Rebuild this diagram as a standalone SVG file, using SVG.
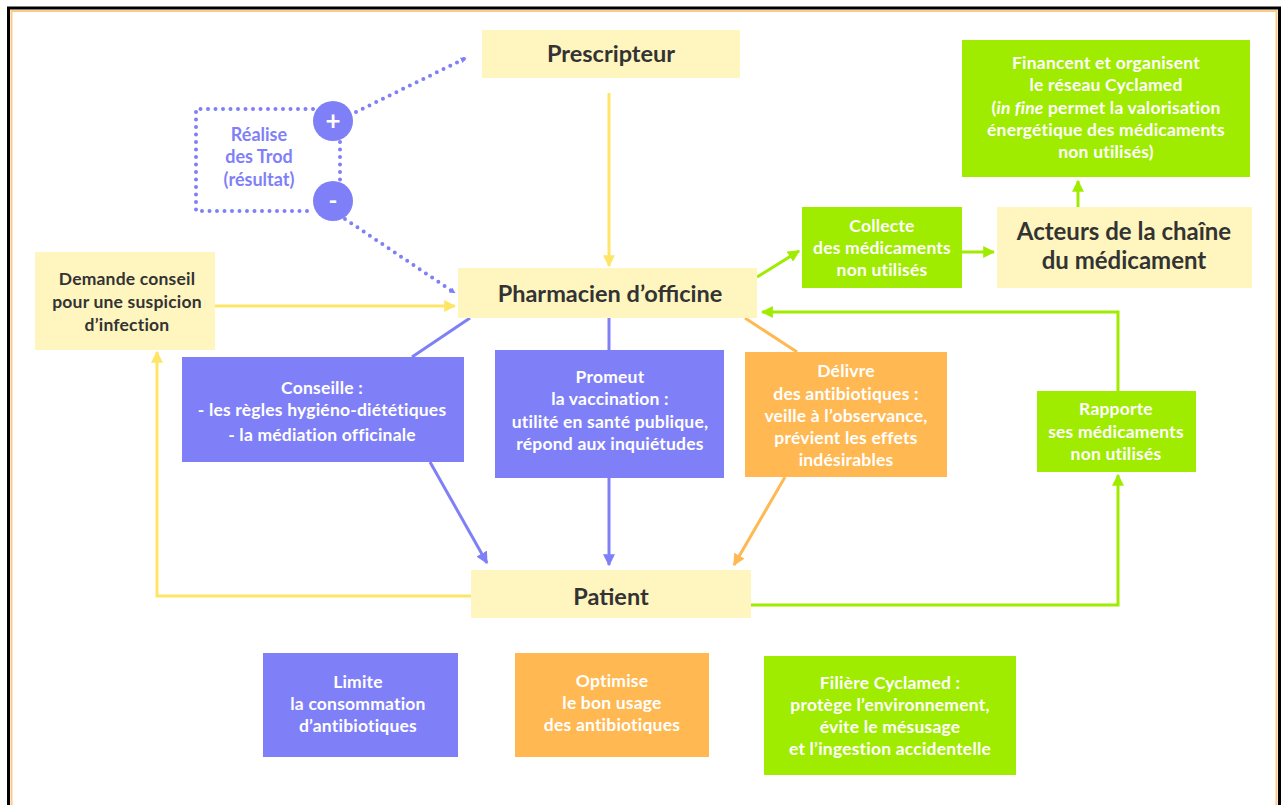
<svg xmlns="http://www.w3.org/2000/svg" width="1282" height="805" viewBox="0 0 1282 805">
<style>
.t{font-family:Lato,"Liberation Sans",sans-serif;font-weight:700;text-anchor:middle}
.s{font-size:17.5px;fill:#ffffff;letter-spacing:0.2px}
.d{font-size:17.5px;fill:#333333;letter-spacing:0.2px}
.b{font-size:23.5px;fill:#333333}
.y{fill:#fff6bf}
.bl{fill:#7f7ff8}
.or{fill:#ffb852}
.gr{fill:#9fec00}
.cy{stroke:#ffe566;stroke-width:3;fill:none}
.cb{stroke:#7f7ff8;stroke-width:3;fill:none}
.co{stroke:#ffb852;stroke-width:3;fill:none}
.cg{stroke:#9fec00;stroke-width:3;fill:none}
.dot{stroke:#7f7ff8;stroke-width:4;fill:none;stroke-dasharray:0 7.5;stroke-linecap:round}
</style>
<defs>
<marker id="ay" viewBox="0 0 10 10" refX="9" refY="5" markerWidth="4" markerHeight="4" orient="auto" markerUnits="strokeWidth"><path d="M0,0 L10,5 L0,10 Z" fill="#ffe566"/></marker>
<marker id="ab" viewBox="0 0 10 10" refX="9" refY="5" markerWidth="4" markerHeight="4" orient="auto" markerUnits="strokeWidth"><path d="M0,0 L10,5 L0,10 Z" fill="#7f7ff8"/></marker>
<marker id="ao" viewBox="0 0 10 10" refX="9" refY="5" markerWidth="4" markerHeight="4" orient="auto" markerUnits="strokeWidth"><path d="M0,0 L10,5 L0,10 Z" fill="#ffb852"/></marker>
<marker id="ag" viewBox="0 0 10 10" refX="9" refY="5" markerWidth="4" markerHeight="4" orient="auto" markerUnits="strokeWidth"><path d="M0,0 L10,5 L0,10 Z" fill="#9fec00"/></marker>
<marker id="ad" viewBox="0 0 10 10" refX="9" refY="5" markerWidth="6" markerHeight="6" orient="auto" markerUnits="userSpaceOnUse"><path d="M0,0 L10,5 L0,10 Z" fill="#7f7ff8"/></marker>
</defs>
<rect x="0" y="0" width="1282" height="805" fill="#ffffff"/>
<!-- frame -->
<path d="M8.5,805 V8 H1279.5 V805" fill="none" stroke="#000000" stroke-width="3"/>
<path d="M11.5,805 V11 H1276.5 V805" fill="none" stroke="#ffc98a" stroke-width="2"/>

<g id="connectors">
<line class="cy" x1="609" y1="93" x2="609" y2="266" marker-end="url(#ay)"/>
<line class="cy" x1="215" y1="306" x2="455" y2="306" marker-end="url(#ay)"/>
<polyline class="cy" points="471,596 157,596 157,352" marker-end="url(#ay)"/>
<line class="cb" x1="470" y1="318" x2="412" y2="357"/>
<line class="cb" x1="430" y1="462" x2="487" y2="563" marker-end="url(#ab)"/>
<line class="cb" x1="609" y1="318" x2="609" y2="350"/>
<line class="cb" x1="609" y1="478" x2="609" y2="565" marker-end="url(#ab)"/>
<line class="co" x1="745" y1="318" x2="797" y2="352"/>
<line class="co" x1="785" y1="477" x2="734" y2="565" marker-end="url(#ao)"/>
<line class="cg" x1="757" y1="277" x2="799" y2="251" marker-end="url(#ag)"/>
<line class="cg" x1="962" y1="252" x2="994" y2="252" marker-end="url(#ag)"/>
<line class="cg" x1="1078" y1="207" x2="1078" y2="181" marker-end="url(#ag)"/>
<polyline class="cg" points="751,605 1118,605 1118,475" marker-end="url(#ag)"/>
<polyline class="cg" points="1118,391 1118,312 762,312" marker-end="url(#ag)"/>
<!-- dotted -->
<polyline class="dot" points="313,109 196,109 196,211 313,211"/>
<line class="dot" x1="340" y1="142" x2="340" y2="181"/>
<line class="dot" x1="356" y1="112" x2="466" y2="58" marker-end="url(#ad)"/>
<line class="dot" x1="345" y1="219" x2="455" y2="293" marker-end="url(#ad)"/>
</g>

<g id="trod">
<text class="t" font-size="18" fill="#7f7ff8" x="259" y="141">Réalise</text>
<text class="t" font-size="18" fill="#7f7ff8" x="259" y="163">des Trod</text>
<text class="t" font-size="18" fill="#7f7ff8" x="259" y="186">(résultat)</text>
<circle cx="333" cy="121" r="20" fill="#7f7ff8"/>
<text class="t" x="333" y="130" font-size="26" fill="#ffffff">+</text>
<circle cx="333" cy="201" r="20" fill="#7f7ff8"/>
<text class="t" x="333" y="209" font-size="24" fill="#ffffff">-</text>
</g>

<g id="prescripteur">
<rect class="y" x="482" y="30" width="258" height="48"/>
<text class="t b" x="611" y="62">Prescripteur</text>
</g>
<g id="pharmacien">
<rect class="y" x="458" y="268" width="299" height="50"/>
<text class="t b" x="610" y="302">Pharmacien d’officine</text>
</g>
<g id="patient">
<rect class="y" x="471" y="570" width="280" height="48"/>
<text class="t b" x="611" y="605">Patient</text>
</g>
<g id="demande">
<rect class="y" x="35" y="252" width="180" height="98"/>
<text class="t d" x="127" y="285">Demande conseil</text>
<text class="t d" x="127" y="308">pour une suspicion</text>
<text class="t d" x="127" y="331">d’infection</text>
</g>
<g id="acteurs">
<rect class="y" x="997" y="207" width="255" height="81"/>
<text class="t" font-size="24" fill="#333333" x="1124" y="240">Acteurs de la chaîne</text>
<text class="t" font-size="24" fill="#333333" x="1124" y="269">du médicament</text>
</g>
<g id="financent">
<rect class="gr" x="962" y="40" width="288" height="137"/>
<text class="t s" x="1106" y="69">Financent et organisent</text>
<text class="t s" x="1106" y="91">le réseau Cyclamed</text>
<text class="t s" x="1106" y="114">(<tspan font-style="italic">in fine</tspan> permet la valorisation</text>
<text class="t s" x="1106" y="136">énergétique des médicaments</text>
<text class="t s" x="1106" y="158">non utilisés)</text>
</g>
<g id="collecte">
<rect class="gr" x="802" y="207" width="160" height="81"/>
<text class="t s" x="882" y="232">Collecte</text>
<text class="t s" x="882" y="254">des médicaments</text>
<text class="t s" x="882" y="276">non utilisés</text>
</g>
<g id="rapporte">
<rect class="gr" x="1037" y="391" width="159" height="81"/>
<text class="t s" x="1116" y="415">Rapporte</text>
<text class="t s" x="1116" y="438">ses médicaments</text>
<text class="t s" x="1116" y="460">non utilisés</text>
</g>
<g id="conseille">
<rect class="bl" x="182" y="357" width="282" height="105"/>
<text class="t s" x="322" y="394">Conseille :</text>
<text class="t s" x="322" y="416">- les règles hygiéno-diététiques</text>
<text class="t s" x="322" y="441">- la médiation officinale</text>
</g>
<g id="promeut">
<rect class="bl" x="495" y="350" width="229" height="128"/>
<text class="t s" x="610" y="383">Promeut</text>
<text class="t s" x="610" y="405">la vaccination :</text>
<text class="t s" x="610" y="428">utilité en santé publique,</text>
<text class="t s" x="610" y="450">répond aux inquiétudes</text>
</g>
<g id="delivre">
<rect class="or" x="745" y="352" width="202" height="125"/>
<text class="t s" x="846" y="377">Délivre</text>
<text class="t s" x="846" y="400">des antibiotiques :</text>
<text class="t s" x="846" y="422">veille à l’observance,</text>
<text class="t s" x="846" y="444">prévient les effets</text>
<text class="t s" x="846" y="466">indésirables</text>
</g>
<g id="limite">
<rect class="bl" x="263" y="653" width="195" height="104"/>
<text class="t s" x="358" y="688">Limite</text>
<text class="t s" x="358" y="710">la consommation</text>
<text class="t s" x="358" y="732">d’antibiotiques</text>
</g>
<g id="optimise">
<rect class="or" x="515" y="653" width="194" height="104"/>
<text class="t s" x="612" y="687">Optimise</text>
<text class="t s" x="612" y="709">le bon usage</text>
<text class="t s" x="612" y="731">des antibiotiques</text>
</g>
<g id="filiere">
<rect class="gr" x="764" y="656" width="252" height="119"/>
<text class="t s" x="890" y="689">Filière Cyclamed :</text>
<text class="t s" x="890" y="711">protège l’environnement,</text>
<text class="t s" x="890" y="733">évite le mésusage</text>
<text class="t s" x="890" y="755">et l’ingestion accidentelle</text>
</g>
</svg>
